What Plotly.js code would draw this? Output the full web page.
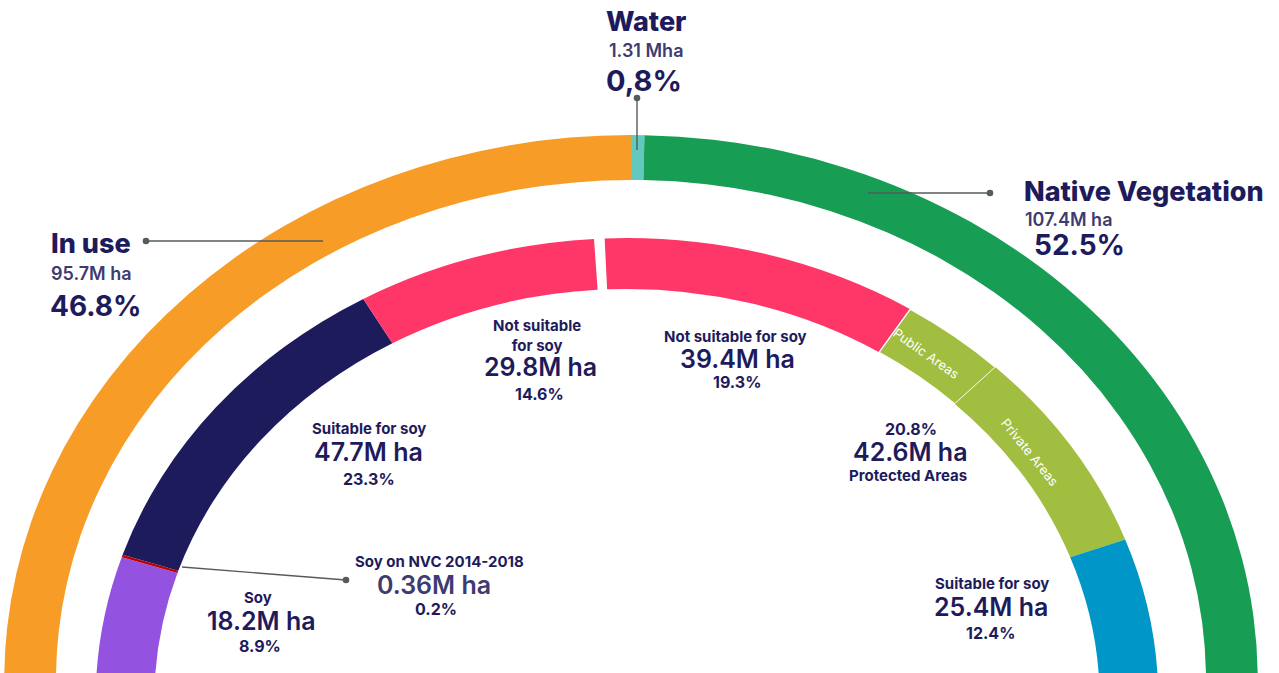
<!DOCTYPE html>
<html>
<head>
<meta charset="utf-8">
<script src="https://cdn.plot.ly/plotly-3.0.1.min.js"></script>
<style>
  html, body { margin:0; padding:0; overflow:hidden; background:#fff; }
  #wrap { position:absolute; left:0; top:0; width:1279px; height:673px; overflow:hidden; background:#fff; }
  #pies { position:absolute; left:0; top:0; width:1279px; height:1400px; transform:scaleX(1.15); transform-origin:631px 0; }
  #txt { position:absolute; left:0; top:0; width:1279px; height:673px; }
</style>
</head>
<body>
<div id="wrap"><div id="pies"></div><div id="txt"></div></div>
<script>
// ---------- DATA ----------
const outerLabels = ['In use', 'Water', 'Native Vegetation'];
const outerValues = [95.7, 1.31, 107.4];           // M ha
const outerPct    = ['46.8%', '0,8%', '52.5%'];

// inner ring, left (in use) then water gap then right (native vegetation)
const innerLabels = ['Soy', 'Soy on NVC 2014-2018', 'Suitable for soy', 'Not suitable for soy',
                     'Water', 'Not suitable for soy', 'Public Areas', 'Private Areas', 'Suitable for soy'];
const innerGroups = ['In use', 'In use', 'In use', 'In use', 'Water',
                     'Native Vegetation', 'Native Vegetation', 'Native Vegetation', 'Native Vegetation'];
const innerValues = [18.2, 0.36, 47.7, 29.8, 1.31, 39.4, 13.3, 29.3, 25.4];   // M ha
const innerPct    = ['8.9%', '0.2%', '23.3%', '14.6%', '', '19.3%', '', '', '12.4%'];
const protectedValue = 42.6;
const protectedPct = '20.8%';

// ---------- STYLE ----------
const outerColors = ['#F89C28', '#62C9BF', '#189E54', 'rgba(0,0,0,0)'];
const innerColors = ['#9352E0', '#C00000', '#1E1B5C', '#FF3768', 'rgba(0,0,0,0)',
                     '#FF3768', '#A1BE40', '#A1BE40', '#0096C8', 'rgba(0,0,0,0)'];
const NAVY = '#1E1B5C', SOFT = '#3D3B70';
const FONT = 'Inter, "Noto Sans", sans-serif';

const sum = a => a.reduce((s, v) => s + v, 0);
// helper (invisible) slices that close each ring
const outerBlank = 4 * outerValues[0] - sum(outerValues);   // "In use" drawn as a quarter ring
const innerBlank = sum(innerValues);                          // half ring

// geometry of the rings (pixels in the un-stretched pie layer)
const PW = 1279, PH = 1400;
function dom(cx, cy, r) {
  return { x: [(cx - r) / PW, (cx + r) / PW], y: [(PH - cy - r) / PH, (PH - cy + r) / PH] };
}

const outerTrace = {
  type: 'pie', sort: false, direction: 'clockwise', rotation: -90,
  labels: outerLabels.concat(['(rest)']), values: outerValues.concat([outerBlank]),
  marker: { colors: outerColors, line: { width: 0 } },
  hole: 1 - 45 / 545, domain: dom(631, 680, 545),
  textinfo: 'none', hoverinfo: 'skip', showlegend: false
};
const innerTrace = {
  type: 'pie', sort: false, direction: 'clockwise', rotation: -88,
  labels: innerLabels.map((l, i) => innerGroups[i] + ' – ' + l).concat(['(rest)']),
  values: innerValues.concat([innerBlank]),
  marker: { colors: innerColors,
            line: { color: '#ffffff', width: [0, 0, 0, 0, 0, 0, 1.2, 0, 0, 0] } },
  hole: 1 - 51 / 462, domain: dom(627.5, 700, 462),
  textinfo: 'none', hoverinfo: 'skip', showlegend: false
};

Plotly.newPlot('pies', [outerTrace, innerTrace], {
  width: PW, height: PH, margin: { l: 0, r: 0, t: 0, b: 0 },
  paper_bgcolor: 'rgba(0,0,0,0)', showlegend: false
}, { staticPlot: true, displayModeBar: false });

// ---------- TEXT LAYER ----------
const TW = 1279, TH = 673;
const anns = [];
function t(x, y, text, size, weight, color, xanchor, angle) {
  anns.push({ xref: 'paper', yref: 'paper', x: x / TW, y: 1 - y / TH, text: text,
    showarrow: false, xanchor: xanchor || 'center', yanchor: 'middle', textangle: angle || 0,
    borderpad: 0, font: { family: FONT, size: size, weight: weight, color: color } });
}
const mha = v => v + 'M ha';

// Water
t(646, 22, outerLabels[1], 27, 800, NAVY);
t(646, 51, outerValues[1] + ' Mha', 18, 600, SOFT);
t(644, 80, outerPct[1], 29, 700, NAVY);
// In use
t(50, 243, outerLabels[0], 27, 800, NAVY, 'left');
t(50, 273, mha(outerValues[0]), 18, 600, SOFT, 'left');
t(49, 306, outerPct[0], 28, 700, NAVY, 'left');
// Native Vegetation
t(1023, 191, outerLabels[2], 27, 800, NAVY, 'left');
t(1024, 220, mha(outerValues[2]), 18, 600, SOFT, 'left');
t(1033, 245, outerPct[2], 28, 700, NAVY, 'left');

// inner left
t(537, 335, 'Not suitable<br>for soy', 15, 700, NAVY);
t(540, 367, mha(innerValues[3]), 25, 600, NAVY);
t(539, 394, innerPct[3], 16, 700, NAVY);

t(369, 428, innerLabels[2], 15, 700, NAVY);
t(368, 452, mha(innerValues[2]), 25, 600, NAVY);
t(369, 479, innerPct[2], 16, 700, NAVY);

t(439, 561, innerLabels[1], 15, 700, NAVY);
t(434, 585, mha(innerValues[1]), 25, 600, SOFT);
t(436, 609, innerPct[1], 16, 700, NAVY);

t(258, 597, innerLabels[0], 15, 700, NAVY);
t(261, 621, mha(innerValues[0]), 25, 600, NAVY);
t(260, 646, innerPct[0], 16, 700, NAVY);

// inner right
t(735, 336, innerLabels[5], 15, 700, NAVY);
t(737, 359, mha(innerValues[5]), 25, 600, NAVY);
t(737, 382, innerPct[5], 16, 700, NAVY);

t(911, 429, protectedPct, 16, 700, NAVY);
t(911, 452, mha(protectedValue), 25, 600, NAVY);
t(908, 475, 'Protected Areas', 15, 700, NAVY);

t(992, 583, innerLabels[8], 15, 700, NAVY);
t(991, 607, mha(innerValues[8]), 25, 600, NAVY);
t(990, 633, innerPct[8], 16, 700, NAVY);

t(926, 353, innerLabels[6], 13, 400, '#ffffff', 'center', 35);
t(1030, 452, innerLabels[7], 13, 400, '#ffffff', 'center', 51);

// leader lines
const shapes = [];
function leader(x0, y0, x1, y1) {
  shapes.push({ type: 'line', xref: 'paper', yref: 'paper', x0: x0 / TW, y0: 1 - y0 / TH,
    x1: x1 / TW, y1: 1 - y1 / TH, line: { color: '#555b5b', width: 1.4 } });
  const r = 3.3;
  shapes.push({ type: 'circle', xref: 'paper', yref: 'paper',
    x0: (x0 - r) / TW, x1: (x0 + r) / TW, y0: 1 - (y0 + r) / TH, y1: 1 - (y0 - r) / TH,
    fillcolor: '#555b5b', line: { width: 0 } });
}
leader(637, 98, 637, 150);
leader(146, 241, 323, 241);
leader(990, 193, 868, 193);
leader(346, 580, 182, 567);

Plotly.newPlot('txt', [], {
  width: TW, height: TH, margin: { l: 0, r: 0, t: 0, b: 0 },
  paper_bgcolor: 'rgba(0,0,0,0)', plot_bgcolor: 'rgba(0,0,0,0)',
  xaxis: { visible: false }, yaxis: { visible: false },
  annotations: anns, shapes: shapes, showlegend: false
}, { staticPlot: true, displayModeBar: false });
</script>
</body>
</html>
